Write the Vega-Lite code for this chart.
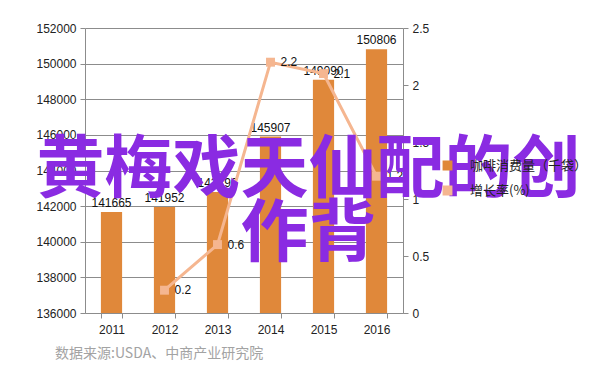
{
  "$schema": "https://vega.github.io/schema/vega-lite/v6.json",
  "width": 318,
  "height": 285,
  "autosize": {"type": "none"},
  "padding": {"left": 85, "top": 28, "right": 199, "bottom": 71},
  "background": "white",
  "config": {"font": "Liberation Sans", "view": {"stroke": null}},
  "data": {"values": [
    {"year": "2011", "consumption": 141665, "growth": null},
    {"year": "2012", "consumption": 141952, "growth": 0.2},
    {"year": "2013", "consumption": 142796, "growth": 0.6},
    {"year": "2014", "consumption": 145907, "growth": 2.2},
    {"year": "2015", "consumption": 149090, "growth": 2.1},
    {"year": "2016", "consumption": 150806, "growth": 1.2}
  ]},
  "title": {"text": "数据来源:USDA、中商产业研究院", "orient": "bottom", "anchor": "start", "frame": "group", "dx": -30, "offset": 12, "fontSize": 14, "color": "#a3a3a3", "fontWeight": "normal", "font": "Noto Sans CJK SC"},
  "encoding": {
    "x": {"field": "year", "type": "ordinal", "scale": {"paddingInner": 0.6, "paddingOuter": 0.3},
      "axis": {"title": null, "labelAngle": 0, "tickBand": "extent", "domainColor": "#8c8c8c", "tickColor": "#8c8c8c", "tickSize": 5, "labelFontSize": 12, "labelPadding": 6, "labelColor": "#222"}}
  },
  "layer": [
    {"encoding": {
       "y": {"field": "consumption", "type": "quantitative", "scale": {"domain": [136000, 152000], "zero": false, "nice": false},
         "axis": {"orient": "left", "title": null, "values": [136000, 138000, 140000, 142000, 144000, 146000, 148000, 150000, 152000], "format": "d", "labelOverlap": false, "grid": true, "gridColor": "#8c8c8c", "domainColor": "#8c8c8c", "tickColor": "#8c8c8c", "tickSize": 5, "labelFontSize": 12, "labelColor": "#222", "labelPadding": 4}}
     },
     "layer": [
      {"mark": {"type": "bar", "clip": true},
       "encoding": {
         "color": {"datum": "咖啡消费量（千袋）", "scale": {"domain": ["咖啡消费量（千袋）", "增长率(%)"], "range": ["#E0883A", "#F5B690"]},
           "legend": {"orient": "none", "legendX": 356, "legendY": 131, "title": null, "labelFontSize": 13, "labelOffset": 16, "labelColor": "#222", "symbolType": "square", "symbolSize": 70, "rowPadding": 10, "labelFont": "Noto Sans CJK SC"}}
       }},
      {"mark": {"type": "text", "dy": -9, "fontSize": 12, "color": "#111"},
       "encoding": {
         "text": {"field": "consumption", "type": "quantitative", "format": "d"}
       }}
    ]},
    {"encoding": {
       "y": {"field": "growth", "type": "quantitative", "scale": {"domain": [0, 2.5], "nice": false},
         "axis": {"orient": "right", "title": null, "values": [0, 0.5, 1, 1.5, 2, 2.5], "format": ".1~f", "grid": false, "domainColor": "#8c8c8c", "tickColor": "#8c8c8c", "tickSize": 5, "labelFontSize": 12, "labelColor": "#222", "labelPadding": 4}}
     },
     "layer": [
      {"mark": {"type": "line", "strokeWidth": 3, "point": {"shape": "square", "size": 80, "filled": true}},
       "encoding": {"color": {"datum": "增长率(%)"}}},
      {"mark": {"type": "text", "dx": 10, "align": "left", "baseline": "middle", "fontSize": 12, "color": "#111"},
       "encoding": {"text": {"field": "growth", "type": "quantitative"}}}
    ]},
    {"data": {"values": [{}]},
     "mark": {"type": "text", "text": ["黄梅戏天仙配的创", "作背"], "fontSize": 68, "fontWeight": "bold", "color": "#8A2BE2", "font": "Noto Sans CJK SC", "baseline": "middle", "align": "center", "lineHeight": 64, "dx": -15, "dy": 1},
     "encoding": {"x": {"datum": "2015"}}}
  ],
  "resolve": {"scale": {"y": "independent"}}
}
